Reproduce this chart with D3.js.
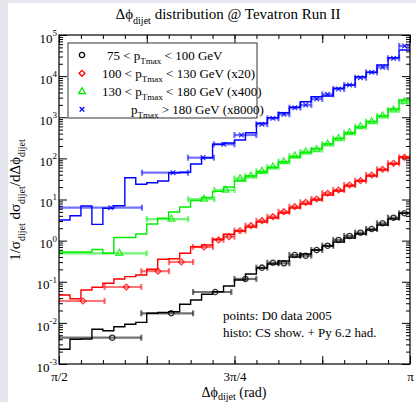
<!DOCTYPE html>
<html>
<head>
<meta charset="utf-8">
<script src="https://cdn.jsdelivr.net/npm/d3@7"></script>
<style>
  body { margin: 0; background: #e6e6ef; }
  svg { display: block; font-family: "Liberation Serif", "Times New Roman", serif; }
  text { white-space: pre; }
</style>
</head>
<body>
<svg id="chart" width="416" height="402"></svg>
<script>
    var PI = Math.PI

    // theory histograms, 32 bins of pi/64 from pi/2 to pi
    var histBlack = [0.00228, 0.00399, 0.00405, 0.00698, 0.00645, 0.00807, 0.00923, 0.0103,
        0.0171, 0.0179, 0.0187, 0.0283, 0.0360, 0.0495, 0.0573, 0.0788,
        0.110, 0.154, 0.216, 0.270, 0.320, 0.400, 0.473, 0.592,
        0.740, 0.926, 1.16, 1.45, 1.81, 2.40, 3.36, 4.70]
    var histRed = [0.0476, 0.0387, 0.0630, 0.0733, 0.0917, 0.117, 0.133, 0.146,
        0.201, 0.352, 0.363, 0.492, 0.712, 0.783, 1.08, 1.43,
        1.71, 2.14, 2.84, 3.55, 4.70, 6.21, 7.77, 9.72,
        12.9, 16.1, 21.3, 28.2, 37.3, 52.2, 73.0, 108]
    var histGreen = [0.529, 0.529, 0.529, 0.609, 0.492, 1.19, 1.19, 1.45,
        2.54, 3.49, 4.97, 6.57, 9.46, 11.2, 15.8, 20.1,
        28.2, 37.3, 46.6, 60.0, 81.6, 108, 139, 174,
        224, 304, 414, 580, 788, 1072, 1588, 2627]
    var histBlue = [3.17, 4.04, 6.95, 2.49, 6.11, 7.07, 33.9, 23.4,
        25.6, 28.2, 44.8, 45.9, 73.0, 104, 220, 237,
        280, 421, 713, 975, 1290, 1746, 2390, 3160,
        3287, 5058, 6085, 9680, 12390, 18650, 28050, 43200]

    // D0 points: [bin low, bin high, point position, value]
    var dataBlack = [
        [1.571, 1.939, 1.809, 0.00436], [1.939, 2.171, 2.073, 0.0171], [2.171, 2.342, 2.270, 0.0563],
        [2.356, 2.454, 2.405, 0.117],
        [2.454, 2.503, 2.479, 0.220], [2.503, 2.553, 2.528, 0.290], [2.553, 2.602, 2.577, 0.281],
        [2.602, 2.651, 2.626, 0.447], [2.651, 2.700, 2.675, 0.430], [2.700, 2.749, 2.724, 0.592],
        [2.749, 2.798, 2.773, 0.753], [2.798, 2.847, 2.822, 1.04], [2.847, 2.896, 2.871, 1.30],
        [2.896, 2.945, 2.920, 1.56], [2.945, 2.994, 2.970, 1.92], [2.994, 3.043, 3.019, 2.64],
        [3.043, 3.093, 3.068, 3.61], [3.093, 3.142, 3.117, 4.62]]
    var dataRed = [
        [1.571, 1.775, 1.678, 0.0340], [1.775, 1.939, 1.872, 0.0745], [1.939, 2.063, 2.014, 0.181],
        [2.063, 2.171, 2.118, 0.302], [2.171, 2.260, 2.220, 0.700], [2.258, 2.307, 2.285, 1.04],
        [2.307, 2.356, 2.332, 1.25],
        [2.356, 2.405, 2.381, 1.74], [2.405, 2.454, 2.430, 2.31], [2.454, 2.503, 2.479, 3.05],
        [2.503, 2.553, 2.528, 3.82], [2.553, 2.602, 2.577, 5.05], [2.602, 2.651, 2.626, 6.68],
        [2.651, 2.700, 2.675, 8.55], [2.700, 2.749, 2.724, 10.3], [2.749, 2.798, 2.773, 14.2],
        [2.798, 2.847, 2.822, 17.0], [2.847, 2.896, 2.871, 22.5], [2.896, 2.945, 2.920, 28.7],
        [2.945, 2.994, 2.970, 39.4], [2.994, 3.043, 3.019, 54.3], [3.043, 3.093, 3.068, 75.9],
        [3.093, 3.142, 3.117, 106]]
    var dataGreen = [
        [1.571, 1.963, 1.841, 0.492], [1.963, 2.149, 2.074, 3.32], [2.149, 2.266, 2.220, 10.2],
        [2.266, 2.356, 2.316, 17.0],
        [2.356, 2.405, 2.381, 32.2], [2.405, 2.454, 2.430, 37.3], [2.454, 2.503, 2.479, 48.5],
        [2.503, 2.553, 2.528, 61.7], [2.553, 2.602, 2.577, 83.0], [2.602, 2.651, 2.626, 114],
        [2.651, 2.700, 2.675, 143], [2.700, 2.749, 2.724, 163], [2.749, 2.798, 2.773, 224],
        [2.798, 2.847, 2.822, 304], [2.847, 2.896, 2.871, 421], [2.896, 2.945, 2.920, 589],
        [2.945, 2.994, 2.970, 779], [2.994, 3.043, 3.019, 1072], [3.043, 3.093, 3.068, 1500],
        [3.093, 3.142, 3.117, 2390]]
    var dataBlue = [
        [1.571, 1.942, 1.802, 6.32], [1.942, 2.148, 2.081, 44.8], [2.148, 2.264, 2.215, 104],
        [2.264, 2.356, 2.308, 220], [2.356, 2.454, 2.387, 370],
        [2.454, 2.503, 2.479, 674], [2.503, 2.553, 2.528, 943], [2.553, 2.602, 2.577, 1180],
        [2.602, 2.651, 2.626, 1707], [2.651, 2.700, 2.675, 1986], [2.700, 2.749, 2.724, 2778],
        [2.749, 2.798, 2.773, 3615], [2.798, 2.847, 2.822, 4863], [2.847, 2.896, 2.871, 6085],
        [2.896, 2.945, 2.920, 9156], [2.945, 2.994, 2.970, 12390], [2.994, 3.043, 3.019, 16400],
        [3.043, 3.093, 3.068, 27130], [3.093, 3.142, 3.117, 54000]]

    var legendPre = ["75 < p", "100 < p", "130 < p", "p"]
    var legendPost = [" < 100 GeV", " < 130 GeV (x20)", " < 180 GeV (x400)", " > 180 GeV (x8000)"]
    var xTickLabels = ["\u03c0/2", "", "3\u03c0/4", "", "\u03c0"]
    var PHI = "\u0394\u03d5"

    var width = 416
    var height = 402
    var svg = d3.select("#chart")

    svg.append("rect").attr("width", width).attr("height", height).attr("fill", "#e6e6ef")
    svg.append("rect").attr("x", 8).attr("y", 3).attr("width", width - 8).attr("height", height - 3).attr("fill", "#fff")

    var x = d3.scaleLinear().domain([PI / 2, PI]).range([59, 410])
    var y = d3.scaleLog().domain([1e-3, 1e5]).range([364, 35])

    // ---- axes (ticks point inward) ----
    var xMajor = d3.range(5).map(function(i) { return PI / 2 + i * PI / 8 })
    var xMinor = d3.range(17).map(function(i) { return PI / 2 + i * PI / 32 })
    var yMajor = d3.range(-3, 6).map(function(e) { return Math.pow(10, e) })
    var yMinor = []
    d3.range(-3, 5).forEach(function(e) {
        d3.range(2, 10).forEach(function(m) { yMinor.push(m * Math.pow(10, e)) })
    })

    function styleAxis(g) {
        g.select(".domain").remove()
        g.selectAll(".tick line").attr("stroke", "#000").attr("stroke-width", 1)
    }

    svg.append("g").attr("transform", "translate(0,364)")
        .call(d3.axisBottom(x).tickValues(xMinor).tickSize(-4).tickFormat("")).call(styleAxis)
    svg.append("g").attr("transform", "translate(0,364)")
        .call(d3.axisBottom(x).tickValues(xMajor).tickSize(-8).tickPadding(8)
            .tickFormat(function(d, i) { return xTickLabels[i] }))
        .call(styleAxis)
        .selectAll("text").attr("font-size", 13).attr("font-family", "Liberation Serif").attr("fill", "#000")
    svg.append("g").attr("transform", "translate(0,35)")
        .call(d3.axisTop(x).tickValues(xMinor).tickSize(-4).tickFormat("")).call(styleAxis)
    svg.append("g").attr("transform", "translate(0,35)")
        .call(d3.axisTop(x).tickValues(xMajor).tickSize(-8).tickFormat("")).call(styleAxis)

    svg.append("g").attr("transform", "translate(59,0)")
        .call(d3.axisLeft(y).tickValues(yMinor).tickSize(-4).tickFormat("")).call(styleAxis)
    var yl = svg.append("g").attr("transform", "translate(59,0)")
        .call(d3.axisLeft(y).tickValues(yMajor).tickSize(-8).tickPadding(2).tickFormat("")).call(styleAxis)
    yl.selectAll(".tick text").each(function(d) {
        var t = d3.select(this).attr("font-size", 13).attr("font-family", "Liberation Serif")
            .attr("fill", "#000").attr("y", 3)
        t.append("tspan").text("10")
        t.append("tspan").attr("font-size", 9).attr("dy", "-0.75em").text(Math.round(Math.log10(d)))
    })
    svg.append("g").attr("transform", "translate(410,0)")
        .call(d3.axisRight(y).tickValues(yMinor).tickSize(-4).tickFormat("")).call(styleAxis)
    svg.append("g").attr("transform", "translate(410,0)")
        .call(d3.axisRight(y).tickValues(yMajor).tickSize(-8).tickFormat("")).call(styleAxis)

    // ---- series ----
    svg.append("clipPath").attr("id", "clip").append("rect")
        .attr("x", 59).attr("y", 35).attr("width", 351).attr("height", 329)
    var plot = svg.append("g").attr("clip-path", "url(#clip)")

    var edges = d3.range(33).map(function(k) { return PI / 2 + k * PI / 64 })
    var step = d3.line().x(function(d) { return x(d[0]) }).y(function(d) { return y(d[1]) }).curve(d3.curveStepAfter)

    var series = [
        {hist: histBlack, data: dataBlack, color: "#000000", symbol: d3.symbolCircle, size: 22, rot: 0},
        {hist: histRed, data: dataRed, color: "#ff0000", symbol: d3.symbolSquare, size: 17, rot: 45},
        {hist: histGreen, data: dataGreen, color: "#00ee00", symbol: d3.symbolTriangle, size: 20, rot: 0},
        {hist: histBlue, data: dataBlue, color: "#0000ff", symbol: d3.symbolTimes || d3.symbolCross, size: 16, rot: 0}
    ]

    series.forEach(function(s) {
        var pts = s.hist.map(function(v, k) { return [edges[k], v] })
        pts.push([edges[32], s.hist[31]])
        plot.append("path").attr("d", step(pts)).attr("fill", "none")
            .attr("stroke", s.color).attr("stroke-width", 1.4)
    })

    series.forEach(function(s) {
        var g = plot.append("g").attr("stroke", s.color).attr("stroke-opacity", 0.55).attr("stroke-width", 2.2)
        g.selectAll("line.bar").data(s.data).enter().append("line")
            .attr("x1", function(d) { return x(d[0]) }).attr("x2", function(d) { return x(d[1]) })
            .attr("y1", function(d) { return y(d[3]) }).attr("y2", function(d) { return y(d[3]) })
        g.selectAll("line.capl").data(s.data).enter().append("line")
            .attr("x1", function(d) { return x(d[0]) }).attr("x2", function(d) { return x(d[0]) })
            .attr("y1", function(d) { return y(d[3]) - 3 }).attr("y2", function(d) { return y(d[3]) + 3 })
        g.selectAll("line.capr").data(s.data).enter().append("line")
            .attr("x1", function(d) { return x(d[1]) }).attr("x2", function(d) { return x(d[1]) })
            .attr("y1", function(d) { return y(d[3]) - 3 }).attr("y2", function(d) { return y(d[3]) + 3 })
        plot.append("g").selectAll("path").data(s.data).enter().append("path")
            .attr("d", d3.symbol().type(s.symbol).size(s.size))
            .attr("transform", function(d) { return "translate(" + x(d[2]) + "," + y(d[3]) + ") rotate(" + s.rot + ")" })
            .attr("fill", "none").attr("stroke", s.color).attr("stroke-width", 1.3).attr("stroke-opacity", 0.8)
    })

    // frame
    svg.append("rect").attr("x", 59).attr("y", 35).attr("width", 351).attr("height", 329)
        .attr("fill", "none").attr("stroke", "#000").attr("stroke-width", 1.2)

    // ---- legend ----
    var lg = svg.append("g")
    lg.append("rect").attr("x", 68).attr("y", 43).attr("width", 189).attr("height", 75)
        .attr("fill", "#fff").attr("stroke", "#333").attr("stroke-width", 1)
    var rowY = [55, 73.3, 91.7, 109.3]
    var textX = [107, 102, 102, 131]
    series.forEach(function(s, i) {
        lg.append("path").attr("d", d3.symbol().type(s.symbol).size(s.size))
            .attr("transform", "translate(82," + rowY[i] + ") rotate(" + s.rot + ")")
            .attr("fill", "none").attr("stroke", s.color).attr("stroke-width", 1.3)
        var t = lg.append("text").attr("x", textX[i]).attr("y", rowY[i] + 4.5).attr("font-size", 13)
        t.append("tspan").text(legendPre[i])
        t.append("tspan").attr("font-size", 9).attr("dy", 4).text("Tmax")
        t.append("tspan").attr("dy", -4).text(legendPost[i])
    })

    // ---- annotations ----
    svg.append("text").attr("x", 223).attr("y", 320).attr("font-size", 13).text("points: D0 data 2005")
    svg.append("text").attr("x", 223).attr("y", 337).attr("font-size", 13).text("histo: CS show. + Py 6.2 had.")

    // ---- title and axis labels ----
    var title = svg.append("text").attr("x", 228).attr("y", 19).attr("text-anchor", "middle").attr("font-size", 15)
    title.append("tspan").text(PHI)
    title.append("tspan").attr("font-size", 10).attr("dy", 5).text("dijet")
    title.append("tspan").attr("dy", -5).text(" distribution @ Tevatron Run II")

    var xl = svg.append("text").attr("x", 234).attr("y", 396.5).attr("text-anchor", "middle").attr("font-size", 14)
    xl.append("tspan").text(PHI)
    xl.append("tspan").attr("font-size", 10).attr("dy", 3).text("dijet")
    xl.append("tspan").attr("dy", -3).text(" (rad)")

    var ylab = svg.append("text").attr("transform", "translate(20,200) rotate(-90)")
        .attr("text-anchor", "middle").attr("font-size", 15)
    ylab.append("tspan").text("1/\u03c3")
    ylab.append("tspan").attr("font-size", 10).attr("dy", 5).text("dijet")
    ylab.append("tspan").attr("dy", -5).text(" d\u03c3")
    ylab.append("tspan").attr("font-size", 10).attr("dy", 5).text("dijet")
    ylab.append("tspan").attr("dy", -5).text("/d" + PHI)
    ylab.append("tspan").attr("font-size", 10).attr("dy", 5).text("dijet")
</script>
</body>
</html>
